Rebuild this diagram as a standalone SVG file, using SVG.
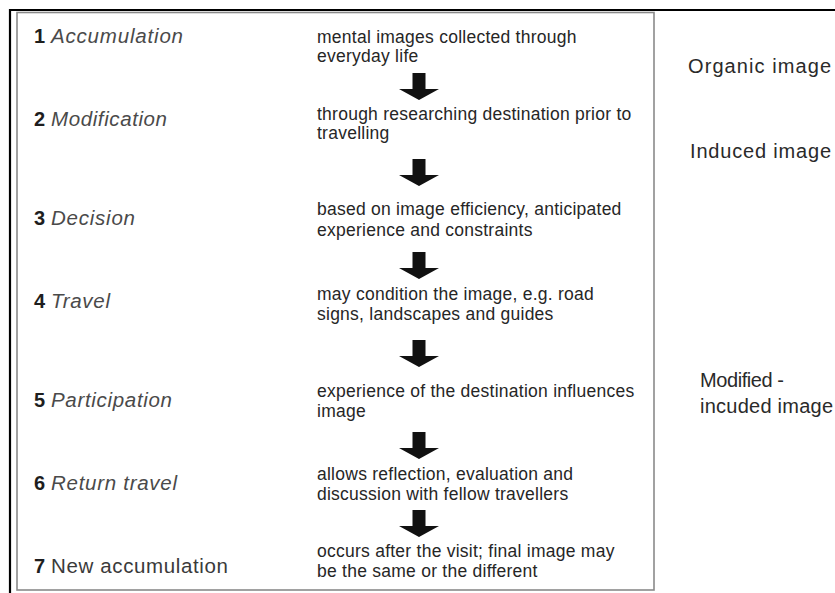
<svg xmlns="http://www.w3.org/2000/svg" width="835" height="593" viewBox="0 0 835 593">
  <style>
    .num { font-family: "Liberation Sans", Arial, sans-serif; font-size: 20px; font-weight: bold; fill: #1e1e1e; }
    .stage { font-family: "Liberation Sans", Arial, sans-serif; font-size: 20.5px; font-style: italic; fill: #4a4a4a; }
    .stage-plain { font-family: "Liberation Sans", Arial, sans-serif; font-size: 20.5px; fill: #3a3a3a; }
    .desc { font-family: "Liberation Sans", Arial, sans-serif; font-size: 17.5px; letter-spacing: 0.25px; fill: #262626; }
    .kind { font-family: "Liberation Sans", Arial, sans-serif; font-size: 20px; fill: #2a2a2a; }
    .arrow { fill: #111; }
  </style>
  <defs>
    <!-- block arrow pointing down, centred on x=0, top at y=0 -->
    <path id="blockArrow" d="M-6.5,0 H6.5 V16 H20 L0,27 L-20,16 H-6.5 Z"/>
  </defs>

  <rect width="835" height="593" fill="#fff"/>

  <!-- frame -->
  <g id="frame">
    <line x1="9" y1="10" x2="835" y2="10" stroke="#000" stroke-width="2"/>
    <line x1="10" y1="9" x2="10" y2="593" stroke="#000" stroke-width="2.2"/>
    <rect x="17" y="12.5" width="637" height="577.5" fill="none" stroke="#8a8a8a" stroke-width="1.6"/>
  </g>

  <!-- stages -->
  <g id="step1">
    <text class="num" x="34" y="43">1</text>
    <text class="stage" x="51" y="43" textLength="132" lengthAdjust="spacing">Accumulation</text>
    <text class="desc" x="317" y="43">mental images collected through</text>
    <text class="desc" x="317" y="62">everyday life</text>
  </g>
  <g id="step2">
    <text class="num" x="34" y="126">2</text>
    <text class="stage" x="51" y="126" textLength="116" lengthAdjust="spacing">Modification</text>
    <text class="desc" x="317" y="120">through researching destination prior to</text>
    <text class="desc" x="317" y="139">travelling</text>
  </g>
  <g id="step3">
    <text class="num" x="34" y="225">3</text>
    <text class="stage" x="51" y="225" textLength="84" lengthAdjust="spacing">Decision</text>
    <text class="desc" x="317" y="215">based on image efficiency, anticipated</text>
    <text class="desc" x="317" y="236">experience and constraints</text>
  </g>
  <g id="step4">
    <text class="num" x="34" y="308">4</text>
    <text class="stage" x="51" y="308" textLength="59" lengthAdjust="spacing">Travel</text>
    <text class="desc" x="317" y="300">may condition the image, e.g. road</text>
    <text class="desc" x="317" y="320">signs, landscapes and guides</text>
  </g>
  <g id="step5">
    <text class="num" x="34" y="407">5</text>
    <text class="stage" x="51" y="407" textLength="121" lengthAdjust="spacing">Participation</text>
    <text class="desc" x="317" y="397">experience of the destination influences</text>
    <text class="desc" x="317" y="417">image</text>
  </g>
  <g id="step6">
    <text class="num" x="34" y="490">6</text>
    <text class="stage" x="51" y="490" textLength="126" lengthAdjust="spacing">Return travel</text>
    <text class="desc" x="317" y="480">allows reflection, evaluation and</text>
    <text class="desc" x="317" y="500">discussion with fellow travellers</text>
  </g>
  <g id="step7">
    <text class="num" x="34" y="573">7</text>
    <text class="stage-plain" x="51" y="573" textLength="177" lengthAdjust="spacing">New accumulation</text>
    <text class="desc" x="317" y="557">occurs after the visit; final image may</text>
    <text class="desc" x="317" y="577">be the same or the different</text>
  </g>

  <!-- image types -->
  <g id="organic">
    <text class="kind" x="688" y="73" textLength="143" lengthAdjust="spacing">Organic image</text>
  </g>
  <g id="induced">
    <text class="kind" x="690" y="158" textLength="141" lengthAdjust="spacing">Induced image</text>
  </g>
  <g id="modified">
    <text class="kind" x="700" y="387" textLength="84" lengthAdjust="spacing">Modified -</text>
    <text class="kind" x="700" y="413" textLength="133" lengthAdjust="spacing">incuded image</text>
  </g>

  <!-- connectors -->
  <g id="connectors" class="arrow">
    <use href="#blockArrow" x="419" y="73"/>
    <use href="#blockArrow" x="419" y="159"/>
    <use href="#blockArrow" x="419" y="252"/>
    <use href="#blockArrow" x="419" y="340"/>
    <use href="#blockArrow" x="419" y="432"/>
    <use href="#blockArrow" x="419" y="510"/>
  </g>
</svg>
